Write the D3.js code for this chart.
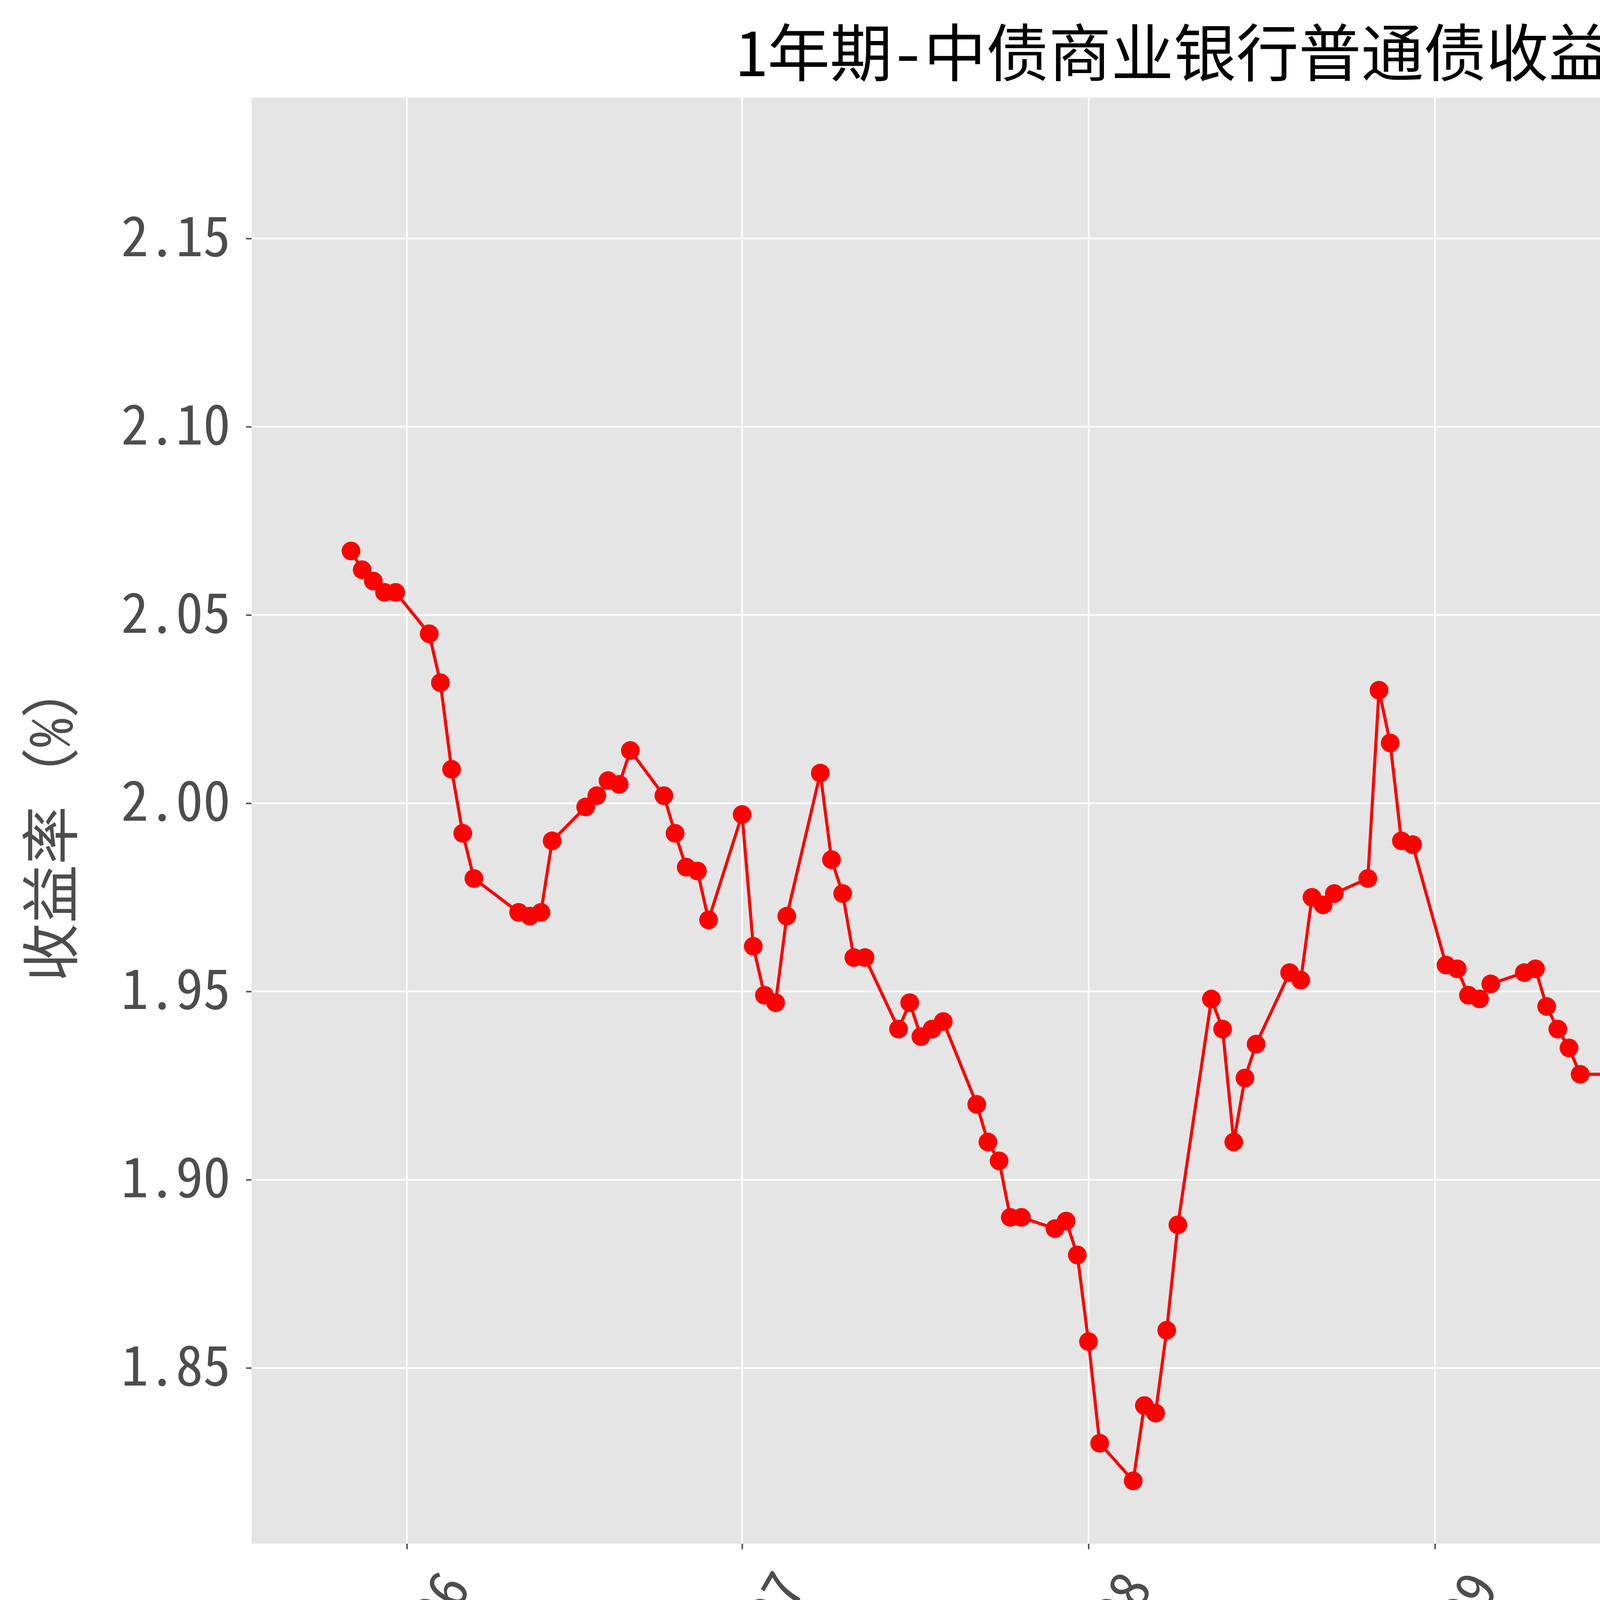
<!DOCTYPE html>
<html><head><meta charset="utf-8">
<script src="https://cdn.jsdelivr.net/npm/d3@7"></script>
<style>body{margin:0;background:#fff;overflow:hidden}</style></head>
<body><svg id="c" width="6278" height="4574"></svg>
<script>
const dates = ["2024-05-27","2024-05-28","2024-05-29","2024-05-30","2024-05-31","2024-06-03","2024-06-04","2024-06-05","2024-06-06","2024-06-07","2024-06-11","2024-06-12","2024-06-13","2024-06-14","2024-06-17","2024-06-18","2024-06-19","2024-06-20","2024-06-21","2024-06-24","2024-06-25","2024-06-26","2024-06-27","2024-06-28","2024-07-01","2024-07-02","2024-07-03","2024-07-04","2024-07-05","2024-07-08","2024-07-09","2024-07-10","2024-07-11","2024-07-12","2024-07-15","2024-07-16","2024-07-17","2024-07-18","2024-07-19","2024-07-22","2024-07-23","2024-07-24","2024-07-25","2024-07-26","2024-07-29","2024-07-30","2024-07-31","2024-08-01","2024-08-02","2024-08-05","2024-08-06","2024-08-07","2024-08-08","2024-08-09","2024-08-12","2024-08-13","2024-08-14","2024-08-15","2024-08-16","2024-08-19","2024-08-20","2024-08-21","2024-08-22","2024-08-23","2024-08-26","2024-08-27","2024-08-28","2024-08-29","2024-08-30","2024-09-02","2024-09-03","2024-09-04","2024-09-05","2024-09-06","2024-09-09","2024-09-10","2024-09-11","2024-09-12","2024-09-13","2024-09-14","2024-09-18","2024-09-19","2024-09-20","2024-09-23","2024-09-24","2024-09-25","2024-09-26","2024-09-27","2024-09-29","2024-09-30","2024-10-08","2024-10-09","2024-10-10","2024-10-11","2024-10-12","2024-10-14","2024-10-15","2024-10-16","2024-10-17","2024-10-18","2024-10-21","2024-10-22","2024-10-23","2024-10-24","2024-10-25","2024-10-28","2024-10-29","2024-10-30","2024-10-31","2024-11-01","2024-11-04","2024-11-05","2024-11-06","2024-11-07","2024-11-08","2024-11-11","2024-11-12","2024-11-13","2024-11-14","2024-11-15","2024-11-18","2024-11-19","2024-11-20","2024-11-21"];
const yields = [2.067,2.062,2.059,2.056,2.056,2.045,2.032,2.009,1.992,1.980,1.971,1.970,1.971,1.990,1.999,2.002,2.006,2.005,2.014,2.002,1.992,1.983,1.982,1.969,1.997,1.962,1.949,1.947,1.970,2.008,1.985,1.976,1.959,1.959,1.940,1.947,1.938,1.940,1.942,1.920,1.910,1.905,1.890,1.890,1.887,1.889,1.880,1.857,1.830,1.820,1.840,1.838,1.860,1.888,1.948,1.940,1.910,1.927,1.936,1.955,1.953,1.975,1.973,1.976,1.980,2.030,2.016,1.990,1.989,1.957,1.956,1.949,1.948,1.952,1.955,1.956,1.946,1.940,1.935,1.928,1.928,1.934,1.940,1.940,1.915,1.880,1.880,1.938,2.053,2.048,2.118,2.170,2.072,2.004,1.993,1.964,1.964,1.960,1.960,1.963,1.971,1.983,2.027,2.016,2.013,1.991,1.983,1.950,1.936,1.899,1.895,1.890,1.891,1.870,1.863,1.860,1.870,1.880,1.876,1.860,1.872,1.872,1.880,1.880];
const yTicks = [1.85,1.90,1.95,2.00,2.05,2.10,2.15];
const xTicks = ["2024-06-01","2024-07-01","2024-08-01","2024-09-01","2024-10-01","2024-11-01"];
const title = "1年期-中债商业银行普通债收益率曲线(AAA)";
const yLabel = "收益率（%）";

const parse = d3.utcParse("%Y-%m-%d");
const data = dates.map((d,i)=>({d:parse(d),v:yields[i]}));
const L=644,R=6245,T=250,B=3952;
const font = "'Noto Sans Mono CJK SC','Noto Sans CJK SC','DejaVu Sans Mono',monospace";
const svg = d3.select("#c");
const ext = d3.extent(data,d=>d.d);
const span = ext[1]-ext[0];
const x = d3.scaleUtc().domain([new Date(+ext[0]-span*0.05), new Date(+ext[1]+span*0.05)]).range([L,R]);
const y = d3.scaleLinear().domain([1.8033,2.1874]).range([B,T]);

svg.append("rect").attr("x",L).attr("y",T).attr("width",R-L).attr("height",B-T).attr("fill","#e5e5e5");
const g = svg.append("g");
yTicks.forEach(t=>g.append("line").attr("x1",L).attr("x2",R).attr("y1",y(t)).attr("y2",y(t)).attr("stroke","#fff").attr("stroke-width",4));
xTicks.forEach(t=>g.append("line").attr("x1",x(parse(t))).attr("x2",x(parse(t))).attr("y1",T).attr("y2",B).attr("stroke","#fff").attr("stroke-width",4));

const ya = svg.append("g").attr("transform",`translate(${L},0)`)
 .call(d3.axisLeft(y).tickValues(yTicks).tickFormat(d3.format(".2f")).tickSize(14).tickPadding(40));
ya.select(".domain").remove();
ya.selectAll("line").attr("stroke","#555").attr("stroke-width",4);
ya.selectAll("text").attr("font-family",font).attr("font-size",140).attr("fill","#4d4d4d");

const xa = svg.append("g").attr("transform",`translate(0,${B})`)
 .call(d3.axisBottom(x).tickValues(xTicks.map(parse)).tickFormat(d3.utcFormat("%Y-%m")).tickSize(14).tickPadding(0));
xa.select(".domain").remove();
xa.selectAll("line").attr("stroke","#555").attr("stroke-width",4);
xa.selectAll("text").attr("font-family",font).attr("font-size",140).attr("fill","#4d4d4d")
 .attr("text-anchor","middle").attr("y",0).attr("dy","0.35em").attr("transform","translate(0,300) rotate(-60)");

svg.append("path").datum(data).attr("fill","none").attr("stroke","#ff0000").attr("stroke-width",8)
 .attr("d",d3.line().x(d=>x(d.d)).y(d=>y(d.v)));
svg.append("g").selectAll("circle").data(data).join("circle")
 .attr("cx",d=>x(d.d)).attr("cy",d=>y(d.v)).attr("r",24).attr("fill","#ff0000");

svg.append("text").attr("x",(L+R)/2).attr("y",195).attr("text-anchor","middle")
 .attr("font-family",font).attr("font-size",160).attr("fill","#000").text(title);
svg.append("text").attr("transform",`translate(185,${(T+B)/2}) rotate(-90)`).attr("text-anchor","middle")
 .attr("font-family",font).attr("font-size",150).attr("fill","#4d4d4d").text(yLabel);
svg.append("rect").attr("x",6135).attr("y",290).attr("width",72).attr("height",58).attr("rx",10)
 .attr("fill","#e5e5e5").attr("stroke","#ccc").attr("stroke-width",4);
</script></body></html>
